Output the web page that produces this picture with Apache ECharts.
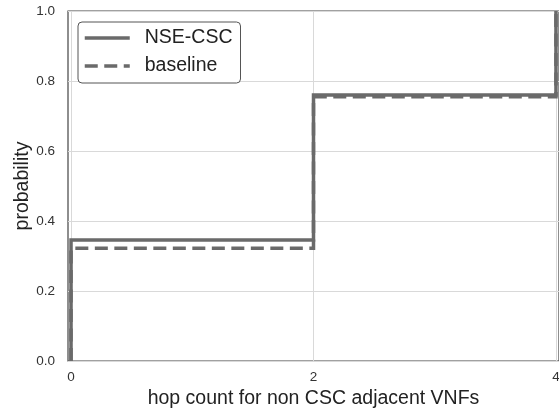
<!DOCTYPE html>
<html>
<head>
<meta charset="utf-8">
<script src="https://cdn.jsdelivr.net/npm/echarts@6/dist/echarts.min.js"></script>
<style>
  html, body { margin: 0; padding: 0; background: #ffffff; }
  #chart { width: 559px; height: 414px; }
</style>
</head>
<body>
<div id="chart"></div>
<script>
// Step CDF of hop count for non CSC adjacent VNFs
const hops = [0, 0, 2, 4];
const nseCsc = [0, 0.346, 0.760, 1.0];
const baseline = [0, 0.322, 0.755, 1.0];
const xTicks = [0, 2, 4];
const yTicks = [0, 0.2, 0.4, 0.6, 0.8, 1.0];

const FONT = "'Liberation Sans', Arial, sans-serif";
const LINE = '#6a6a6a';

const pairs = (xs, ys) => xs.map((x, i) => [x, ys[i]]);

const chart = echarts.init(document.getElementById('chart'), null, { renderer: 'canvas' });

chart.setOption({
  animation: false,
  backgroundColor: '#ffffff',
  textStyle: { fontFamily: FONT },
  grid: {
    left: 68, top: 11, width: 491, height: 350,
    outerBoundsMode: 'none',
    containLabel: false,
    show: true, borderColor: '#444444', borderWidth: 1.2, backgroundColor: 'transparent'
  },
  legend: {
    orient: 'vertical',
    left: 78, top: 22,
    padding: [6, 8, 7, 5],
    itemGap: 8,
    itemWidth: 45, itemHeight: 20,
    backgroundColor: '#ffffff',
    borderColor: '#555555', borderWidth: 1, borderRadius: 4,
    // legend keys show the line only, no marker
    itemStyle: { opacity: 0, borderWidth: 0 },
    lineStyle: { width: 3.5 },
    textStyle: { fontFamily: FONT, fontSize: 19.5, color: '#222222', padding: [0, 0, 0, 10], lineHeight: 20 },
    data: ['NSE-CSC', 'baseline']
  },
  xAxis: {
    type: 'value',
    min: -0.025, max: 4.025,
    name: 'hop count for non CSC adjacent VNFs',
    nameLocation: 'middle',
    nameGap: 28,
    nameMoveOverlap: false,
    nameTextStyle: { fontFamily: FONT, fontSize: 19.5, color: '#222222' },
    axisLine: { show: false },
    axisTick: { show: false, customValues: xTicks },
    axisLabel: { customValues: xTicks, margin: 9, fontSize: 13.5, color: '#333333', fontFamily: FONT },
    splitLine: { show: true, lineStyle: { color: '#d9d9d9', width: 1 } }
  },
  yAxis: {
    type: 'value',
    min: 0, max: 1, interval: 0.2,
    name: 'probability',
    nameLocation: 'middle',
    nameGap: 35,
    nameMoveOverlap: false,
    nameTextStyle: { fontFamily: FONT, fontSize: 19.5, color: '#222222' },
    axisLine: { show: false },
    axisTick: { show: false },
    axisLabel: {
      margin: 13, fontSize: 13.5, color: '#333333', fontFamily: FONT,
      formatter: v => yTicks.some(t => Math.abs(t - v) < 1e-9) ? v.toFixed(1) : ''
    },
    splitLine: { show: true, lineStyle: { color: '#d9d9d9', width: 1 } }
  },
  series: [
    {
      name: 'NSE-CSC',
      type: 'line',
      step: 'end',
      symbol: 'none',
      data: pairs(hops, nseCsc),
      lineStyle: { color: LINE, width: 3.5, type: 'solid', cap: 'butt', join: 'miter' },
      itemStyle: { color: LINE },
      z: 3
    },
    {
      name: 'baseline',
      type: 'line',
      step: 'end',
      symbol: 'none',
      data: pairs(hops, baseline),
      lineStyle: { color: LINE, width: 3.5, type: [13, 6.5], dashOffset: 0, cap: 'butt', join: 'miter' },
      itemStyle: { color: LINE },
      z: 4
    }
  ]
});
</script>
</body>
</html>
